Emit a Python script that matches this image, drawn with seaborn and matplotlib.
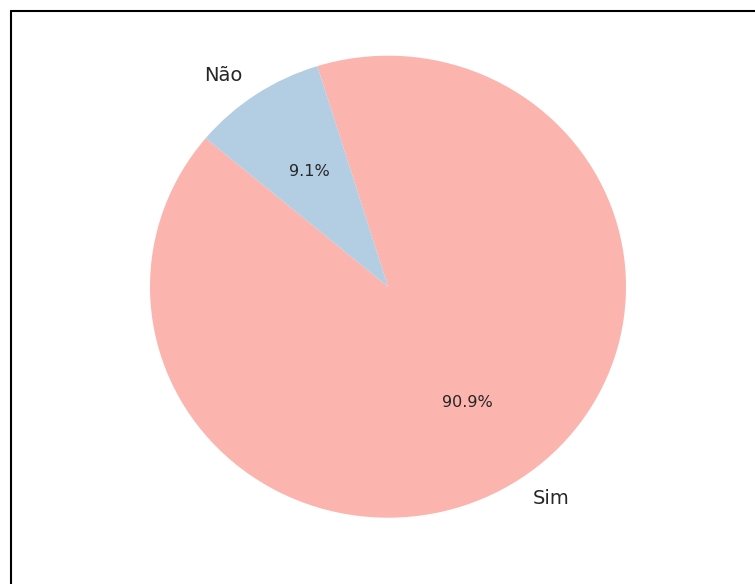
import matplotlib
matplotlib.use("Agg")
import matplotlib.pyplot as plt
from matplotlib.lines import Line2D
import seaborn as sns

# respostas (Sim / Não)
labels = ['Sim', 'Não']
counts = [10, 1]

sns.set_theme(style="white")
colors = sns.color_palette("Pastel1", 2)

W, H = 755, 584
fig = plt.figure(figsize=(W / 100, H / 100), dpi=100)

# pie centre ~ (388, 287) px, radius ~ 238 x 231 px (slightly stretched screenshot)
cx, cy, rx, ry = 388, 286.7, 238, 231
hx, hy = 1.25 * rx, 1.25 * ry
ax = fig.add_axes([(cx - hx) / W, (H - cy - hy) / H, 2 * hx / W, 2 * hy / H])

wedges, texts, autotexts = ax.pie(counts, labels=labels, colors=colors, autopct='%1.1f%%',
                                  startangle=140, textprops={'fontsize': 14},
                                  wedgeprops={'linewidth': 0})
for t in autotexts:
    t.set_fontsize(11.5)
ax.set_xlim(-1.25, 1.25)
ax.set_ylim(-1.25, 1.25)
ax.set_aspect('auto')

# border of the screenshot (top + left)
fig.add_artist(Line2D([10.5 / W, 1], [1 - 10.5 / H, 1 - 10.5 / H], color='black', lw=1.5,
                      transform=fig.transFigure))
fig.add_artist(Line2D([10.5 / W, 10.5 / W], [0, 1 - 10.5 / H], color='black', lw=1.5,
                      transform=fig.transFigure))

fig.savefig('out.png', dpi=100)
